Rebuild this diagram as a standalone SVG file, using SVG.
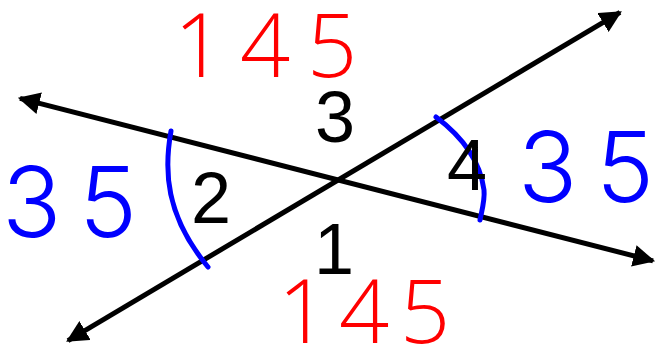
<svg xmlns="http://www.w3.org/2000/svg" width="660" height="351" viewBox="0 0 660 351">
<style>
.ln{stroke:#000;stroke-width:5;fill:none;marker-start:url(#ah);marker-end:url(#ah)}
.arc{stroke:#0000ff;stroke-width:5;fill:none;stroke-linecap:round}
.num{font-family:"Liberation Sans",Arial,sans-serif;font-size:72px;fill:#000;text-anchor:middle}
.red{font-family:"Open Sans","Liberation Sans",sans-serif;font-weight:300;font-size:88px;fill:#ff0000}
.blue{font-family:Inter,"Liberation Sans",sans-serif;font-weight:300;font-size:98px;fill:#0000ff}
</style>
<defs>
<marker id="ah" viewBox="0 0 10 10" refX="9" refY="5" markerWidth="4.4" markerHeight="4.4" orient="auto-start-reverse" markerUnits="strokeWidth">
<path d="M0,0 L10,5 L0,10 z" fill="#000"/>
</marker>
</defs>
<rect width="660" height="351" fill="#fff"/>
<g id="connectors">
<line class="ln" x1="20" y1="98.3" x2="653" y2="260.8"/>
<line class="ln" x1="68" y1="340.6" x2="620" y2="12.4"/>
</g>
<g id="arc-left"><path class="arc" d="M171,131 C164,170 165,215 208,267"/></g>
<g id="arc-right"><path class="arc" d="M436,117 C460,135 480,160 484,190 C485,200 482,210 480,220"/></g>
<g id="angle-3"><text class="num" x="335" y="142">3</text></g>
<g id="angle-2"><text class="num" x="211" y="223">2</text></g>
<g id="angle-4"><text class="num" x="467" y="190">4</text></g>
<g id="angle-1"><text class="num" x="334" y="274">1</text></g>
<g id="label-145-top"><text class="red" x="174 240 307" y="77">145</text></g>
<g id="label-145-bottom"><text class="red" x="278 339 400" y="343">145</text></g>
<g id="label-35-left"><text class="blue" x="2 79" y="237">35</text></g>
<g id="label-35-right"><text class="blue" x="518 596" y="202" font-size="102">35</text></g>
</svg>
